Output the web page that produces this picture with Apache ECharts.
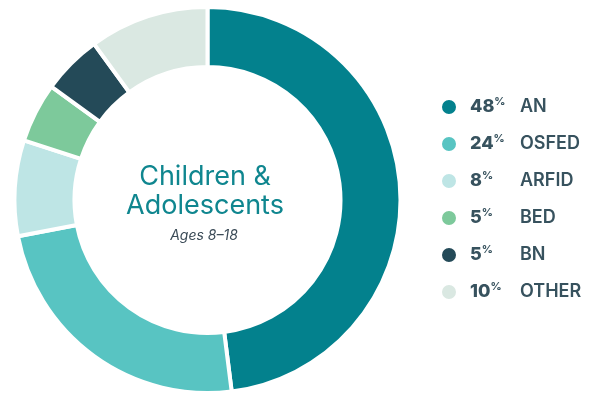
<!DOCTYPE html>
<html>
<head>
<meta charset="utf-8">
<style>
  html, body { margin: 0; padding: 0; background: #ffffff; }
  #chart { width: 596px; height: 393px; }
</style>
<script src="https://cdn.jsdelivr.net/npm/echarts@6/dist/echarts.min.js"></script>
</head>
<body>
<div id="chart"></div>
<script>
// Eating-disorder diagnoses among children & adolescents (share of patients, %)
const categories = ['AN', 'OSFED', 'ARFID', 'BED', 'BN', 'OTHER'];
const shares = [48, 24, 8, 5, 5, 10];
const sliceColors = ['#03818D', '#58C4C2', '#BEE5E5', '#7DC99B', '#244A58', '#DAE8E2'];
const centerTitle = 'Children &\nAdolescents';
const centerSubtitle = 'Ages 8–18';

const textDark = '#37525E';
const teal = '#0F868F';

const valueFont = { family: 'Inter', weight: 800, size: 18 };
const pctFont = { family: 'Inter', weight: 700, size: 11 };
const nameColumnOffset = 50; // distance from value start to name start

// measure text so the names line up in one column
const measureCtx = document.createElement('canvas').getContext('2d');
function textWidth(str, f) {
  measureCtx.font = f.weight + ' ' + f.size + 'px ' + f.family;
  return measureCtx.measureText(str).width;
}

const rich = {
  v: { fontFamily: valueFont.family, fontWeight: valueFont.weight, fontSize: valueFont.size, color: textDark, lineHeight: 22 },
  p: { fontFamily: pctFont.family, fontWeight: pctFont.weight, fontSize: pctFont.size, color: textDark, lineHeight: 12, verticalAlign: 'top' },
  n: { fontFamily: 'Inter', fontWeight: 600, fontSize: 18, color: textDark, lineHeight: 22 }
};
categories.forEach((name, i) => {
  const w = textWidth(String(shares[i]), valueFont) + textWidth('%', pctFont);
  rich['s' + i] = { width: Math.max(2, nameColumnOffset - w), lineHeight: 22 };
});

const seriesData = categories.map((name, i) => ({
  name: name,
  value: shares[i],
  itemStyle: { color: sliceColors[i] }
}));

const chart = echarts.init(document.getElementById('chart'), null, { renderer: 'canvas' });

chart.setOption({
  backgroundColor: '#ffffff',
  animation: false,
  legend: {
    orient: 'vertical',
    left: 435,
    top: 91,
    itemGap: 17,
    icon: 'circle',
    itemWidth: 16,
    itemHeight: 16,
    selectedMode: false,
    data: categories,
    formatter: function (name) {
      const i = categories.indexOf(name);
      return '{v|' + shares[i] + '}{p|%}{s' + i + '|}{n|' + name + '}';
    },
    textStyle: { padding: [0, 0, 0, 8], rich: rich }
  },
  title: [
    {
      text: centerTitle,
      left: 200,
      top: 157,
      textAlign: 'center',
      textStyle: { fontFamily: 'Inter', fontWeight: 'normal', fontSize: 27, lineHeight: 29, color: teal }
    },
    {
      text: centerSubtitle,
      left: 199,
      top: 224,
      textAlign: 'center',
      textStyle: { fontFamily: 'Inter', fontStyle: 'italic', fontWeight: 'normal', fontSize: 14, color: '#3B4B57' }
    }
  ],
  series: [{
    type: 'pie',
    center: [207.5, 200],
    radius: [133, 193],
    startAngle: 90,
    clockwise: true,
    label: { show: false },
    labelLine: { show: false },
    emphasis: { disabled: true },
    itemStyle: { borderColor: '#ffffff', borderWidth: 4 },
    data: seriesData
  }]
});
</script>
</body>
</html>
